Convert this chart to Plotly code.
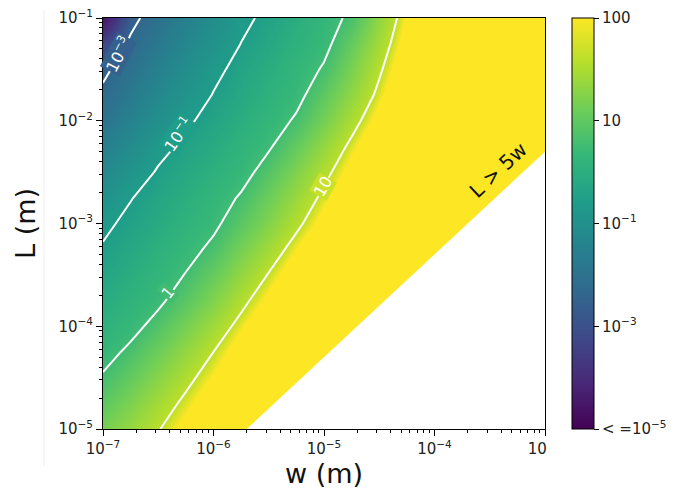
import numpy as np
import plotly.graph_objects as go
from plotly.colors import sample_colorscale

# ---------------- data ----------------
# grid exponents: w = 10**w_exp (m), L = 10**L_exp (m)
w_exp = [-7, -6.75, -6.5, -6.25, -6, -5.75, -5.5, -5.25, -5, -4.75, -4.5, -4.25, -4, -3.5, -3]
L_exp = [-5, -4.75, -4.5, -4.25, -4, -3.75, -3.5, -3.25, -3, -2.75, -2.5, -2.25, -2, -1.75, -1.5, -1.25, -1]

# log10 of the plotted quantity; one row per L_exp (bottom to top)
log_value = [
    [0.47, 0.72, 0.98, 1.24, 1.50, 1.76, 2.02, 2.28, 2.53, 2.79, 3.05, 3.31, 3.57, 4.09, 4.60],
    [0.26, 0.53, 0.81, 1.08, 1.35, 1.62, 1.90, 2.17, 2.44, 2.71, 2.99, 3.26, 3.53, 4.08, 4.62],
    [0.05, 0.33, 0.61, 0.90, 1.18, 1.47, 1.75, 2.03, 2.32, 2.60, 2.89, 3.17, 3.45, 4.02, 4.59],
    [-0.18, 0.10, 0.40, 0.70, 1.00, 1.30, 1.60, 1.90, 2.20, 2.50, 2.80, 3.10, 3.40, 4.00, 4.60],
    [-0.40, -0.15, 0.16, 0.48, 0.79, 1.11, 1.42, 1.74, 2.06, 2.37, 2.69, 3.00, 3.32, 3.95, 4.58],
    [-0.59, -0.33, -0.09, 0.24, 0.57, 0.90, 1.23, 1.56, 1.90, 2.23, 2.56, 2.89, 3.22, 3.88, 4.55],
    [-0.77, -0.51, -0.25, 0.02, 0.35, 0.69, 1.02, 1.35, 1.68, 2.02, 2.35, 2.68, 3.02, 3.68, 4.35],
    [-0.95, -0.69, -0.42, -0.16, 0.10, 0.47, 0.80, 1.14, 1.48, 1.81, 2.15, 2.49, 2.82, 3.50, 4.17],
    [-1.12, -0.86, -0.60, -0.33, -0.09, 0.24, 0.58, 0.92, 1.26, 1.59, 1.93, 2.27, 2.60, 3.28, 3.95],
    [-1.52, -1.025, -0.76, -0.49, -0.22, 0.05, 0.40, 0.74, 1.08, 1.42, 1.76, 2.10, 2.44, 3.12, 3.80],
    [-1.88, -1.40, -0.93, -0.68, -0.41, -0.17, 0.19, 0.54, 0.90, 1.26, 1.61, 1.97, 2.33, 3.04, 3.75],
    [-2.24, -1.76, -1.22, -0.85, -0.60, -0.32, -0.05, 0.32, 0.70, 1.08, 1.45, 1.83, 2.20, 2.96, 3.71],
    [-2.60, -2.11, -1.62, -1.10, -0.79, -0.51, -0.22, 0.06, 0.47, 0.87, 1.26, 1.65, 2.05, 2.83, 3.62],
    [-2.87, -2.39, -1.91, -1.43, -0.97, -0.68, -0.39, -0.13, 0.27, 0.68, 1.08, 1.49, 1.89, 2.70, 3.51],
    [-3.14, -2.65, -2.18, -1.70, -1.17, -0.79, -0.54, -0.24, 0.05, 0.51, 0.95, 1.38, 1.82, 2.69, 3.56],
    [-3.60, -2.90, -2.43, -1.95, -1.47, -0.99, -0.69, -0.39, -0.13, 0.34, 0.81, 1.28, 1.75, 2.69, 3.63],
    [-4.60, -3.17, -2.68, -2.20, -1.72, -1.16, -0.84, -0.53, -0.21, 0.10, 0.67, 1.18, 1.69, 2.71, 3.72],
]

# contour levels (log10) and their labels
level_exp = [-3, -1, 0, 1]
level_text = ["10<sup>−3</sup>", "10<sup>−1</sup>", "1", "10"]
label_w_exp = [-6.862, -6.321, -6.412, -5.009]
label_L_exp = [-1.355, -2.135, -3.674, -2.641]
label_angle = [-63, -55, -51, -60]
label_bg_pos = [0.31, 0.555, 0.69, 0.92]

# colour of the field: log10 value -> position in viridis
color_anchor_exp = [-5, -4, -3, -2, -1, 0, 1, 1.15]
color_anchor_pos = [0.0, 0.14, 0.33, 0.46, 0.555, 0.69, 0.90, 1.0]

# colour bar
cbar_pos = [0, 0.25, 0.5, 0.75, 1]
cbar_text = ["< =10<sup>−5</sup>", "10<sup>−3</sup>", "10<sup>−1</sup>", "10", "100"]

# axes
w_range_exp = [-7, -3]
L_range_exp = [-5, -1]
aspect_ratio = 5  # valid region: L > 5 w

# ---------------- figure ----------------
FONT = "DejaVu Sans"
w = [10.0 ** e for e in w_exp]
L = [10.0 ** e for e in L_exp]
z = np.array(log_value)

zmin, zmax = color_anchor_exp[0], color_anchor_exp[-1]
s = np.linspace(0, 1, 120)
t = np.interp(zmin + s * (zmax - zmin), color_anchor_exp, color_anchor_pos)
cols = sample_colorscale("Viridis", list(t))
field_scale = [[float(si), c] for si, c in zip(s, cols)]

fig = go.Figure()
fig.add_trace(go.Contour(
    x=w, y=L, z=z, zmin=zmin, zmax=zmax, zauto=False,
    colorscale=field_scale, showscale=False,
    contours=dict(coloring="heatmap", showlines=False),
    line=dict(width=0), hoverinfo="skip",
))

# white contour lines
line_style = dict(color="white", width=2, smoothing=0)
fig.add_trace(go.Contour(
    x=w, y=L, z=z, showscale=False, hoverinfo="skip",
    contours=dict(coloring="none", start=level_exp[0], end=level_exp[1], size=level_exp[1] - level_exp[0]),
    line=line_style,
))
fig.add_trace(go.Contour(
    x=w, y=L, z=z, showscale=False, hoverinfo="skip",
    contours=dict(coloring="none", start=level_exp[2], end=level_exp[3], size=level_exp[3] - level_exp[2]),
    line=line_style,
))

# masked region L < 5w
w_lo = 10.0 ** L_range_exp[0] / aspect_ratio / 1.3
w_hi = 10.0 ** w_range_exp[1] * 1.3
fig.add_trace(go.Scatter(
    x=[w_lo, w_hi, w_hi, w_lo],
    y=[aspect_ratio * w_lo, aspect_ratio * w_hi, 10.0 ** L_range_exp[0] / 1.3, 10.0 ** L_range_exp[0] / 1.3],
    mode="lines", fill="toself", fillcolor="white", line=dict(width=0, color="white"),
    hoverinfo="skip", showlegend=False,
))

# colour bar carrier
fig.add_trace(go.Scatter(
    x=[w[0]], y=[L[-1]], mode="markers", hoverinfo="skip", showlegend=False,
    marker=dict(size=0.1, opacity=0, color=[0.5], colorscale="Viridis", cmin=0, cmax=1,
                showscale=True,
                colorbar=dict(
                    thickness=22, len=1, lenmode="fraction", y=0.5, yanchor="middle",
                    x=(572 - 103) / 442, xanchor="left", xpad=0, ypad=0,
                    outlinewidth=1, outlinecolor="black",
                    ticks="outside", ticklen=5, tickwidth=1, tickcolor="black",
                    tickmode="array", tickvals=cbar_pos, ticktext=cbar_text,
                    tickfont=dict(family=FONT, size=15, color="#222"),
                    ticklabeloverflow="allow",
                )),
))

# contour labels
for txt, xe, ye, ang, bgp in zip(level_text, label_w_exp, label_L_exp, label_angle, label_bg_pos):
    bg = sample_colorscale("Viridis", [bgp])[0]
    fig.add_annotation(x=xe, y=ye, xref="x", yref="y", text=txt, showarrow=False,
                       textangle=ang, bgcolor=bg, borderpad=0,
                       font=dict(family=FONT, size=16, color="white"))

fig.add_annotation(x=-3.425, y=-2.476, xref="x", yref="y", text="L > 5w", showarrow=False,
                   textangle=-43, font=dict(family=FONT, size=20, color="#111"))

# faint frame line at left of the picture
fig.add_shape(type="line", xref="paper", yref="paper", x0=(44 - 103) / 442, x1=(44 - 103) / 442,
              y0=(429 - 466) / 411, y1=(429 - 10) / 411, line=dict(color="#eeeeee", width=1))


def decade_ticks(lo, hi, hide_last=False):
    vals = [10.0 ** e for e in range(lo, hi + 1)]
    texts = ["10<sup>−%d</sup>" % (-e) for e in range(lo, hi + 1)]
    if hide_last:
        texts[-1] = '10<sup><span style="color:white">−%d</span></sup>' % (-hi)
    minor = [m * 10.0 ** e for e in range(lo, hi) for m in range(2, 10)]
    return vals, texts, minor


xv, xt, xm = decade_ticks(w_range_exp[0], w_range_exp[1], hide_last=True)
yv, yt, ym = decade_ticks(L_range_exp[0], L_range_exp[1])
eps = 1e-7

axis_common = dict(
    type="log", showline=True, linecolor="black", linewidth=1, mirror=True,
    ticks="outside", ticklen=6, tickwidth=1, tickcolor="black",
    showgrid=False, zeroline=False, tickmode="array", ticklabeloverflow="allow",
    tickfont=dict(family=FONT, size=15, color="#222"),
)
fig.update_xaxes(**axis_common, range=[w_range_exp[0] - eps, w_range_exp[1] + eps], tickvals=xv, ticktext=xt,
                 minor=dict(tickmode="array", tickvals=xm, ticks="outside", ticklen=3,
                            tickwidth=1, tickcolor="black", showgrid=False),
                 title=dict(text="w (m)", font=dict(family=FONT, size=27, color="#111"), standoff=1))
fig.update_yaxes(**axis_common, range=[L_range_exp[0] - eps, L_range_exp[1] + eps], tickvals=yv, ticktext=yt,
                 minor=dict(tickmode="array", tickvals=ym, ticks="outside", ticklen=3,
                            tickwidth=1, tickcolor="black", showgrid=False),
                 title=dict(text="L (m)", font=dict(family=FONT, size=27, color="#111"), standoff=14))

# the page adds an 8 px body margin, so the figure is 8 px smaller and shifted
fig.update_layout(
    width=670, height=485,
    margin=dict(l=95, r=133, t=10, b=64, autoexpand=False),
    paper_bgcolor="white", plot_bgcolor="white",
    showlegend=False,
)

fig.write_html("out.html")
